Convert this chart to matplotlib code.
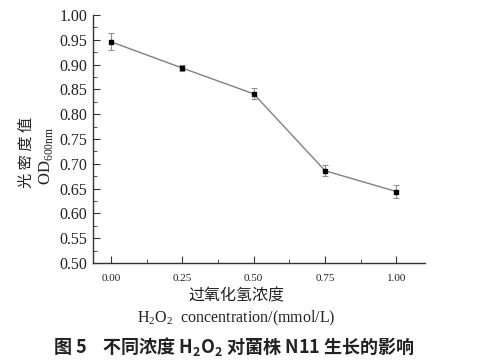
import matplotlib
matplotlib.use("Agg")
import matplotlib.pyplot as plt
from matplotlib.ticker import MultipleLocator

conc = [0.00, 0.25, 0.50, 0.75, 1.00]
od = [0.946, 0.893, 0.841, 0.686, 0.644]
err = [0.017, 0.006, 0.011, 0.011, 0.013]
xticks = [0.00, 0.25, 0.50, 0.75, 1.00]
yticks = [0.50, 0.55, 0.60, 0.65, 0.70, 0.75, 0.80, 0.85, 0.90, 0.95, 1.00]

W, H = 487, 364
fig = plt.figure(figsize=(W/100, H/100), dpi=100)
ax = fig.add_axes([93/W, 1-263/H, (425-93)/W, (263-15)/H])

ax.errorbar(conc, od, yerr=err, color="#808080", lw=1.0, ecolor="#909090",
            elinewidth=0.8, capsize=2.5, capthick=0.8,
            marker="s", ms=3.5, mfc="black", mec="black", zorder=3)

ax.set_xlim(-0.063, 1.10)
ax.set_ylim(0.50, 1.00)
ax.set_xticks(xticks)
ax.set_xticklabels([f"{v:.2f}" for v in xticks])
ax.set_yticks(yticks)
ax.set_yticklabels([f"{v:.2f}" for v in yticks])
ax.xaxis.set_minor_locator(MultipleLocator(0.125))
ax.yaxis.set_minor_locator(MultipleLocator(0.025))
for s in ["top", "right"]:
    ax.spines[s].set_visible(False)
for s in ["left", "bottom"]:
    ax.spines[s].set_color("#333333")
    ax.spines[s].set_linewidth(1.0)
ax.tick_params(axis="both", which="both", direction="in", color="#333333")
ax.tick_params(axis="both", which="major", length=5)
ax.tick_params(axis="both", which="minor", length=3)
ax.tick_params(axis="y", labelsize=11.5, pad=4)
ax.tick_params(axis="x", labelsize=8, pad=8)
for lab in ax.get_xticklabels() + ax.get_yticklabels():
    lab.set_fontfamily("Liberation Serif")
    lab.set_color("#222222")

cjk = ["Noto Sans CJK SC", "DejaVu Sans"]
fig.text(26/W, 1-152/H, "光 密 度 值", rotation=90, ha="center", va="center",
         fontsize=11, family=cjk, color="#222222")
fig.text(46/W, 1-156/H, r"OD$_{\mathregular{600nm}}$", rotation=90, ha="center", va="center",
         fontsize=12, family="Liberation Serif", color="#222222")
fig.text(236/W, 1-296/H, "过氧化氢浓度", ha="center", va="center",
         fontsize=11.5, family=cjk, color="#222222")
fig.text(236/W, 1-318/H, r"H$_{\mathregular{2}}$O$_{\mathregular{2}}$  concentration/(mmol/L)",
         ha="center", va="center", fontsize=11.5, family="Liberation Serif", color="#222222")
fig.text(53/W, 1-346/H, r"图 5    不同浓度 H$_{\mathregular{2}}$O$_{\mathregular{2}}$ 对菌株 N11 生长的影响",
         ha="left", va="center", fontsize=13, family=cjk, weight="bold", color="#222222")

fig.savefig("out.png", dpi=100)
